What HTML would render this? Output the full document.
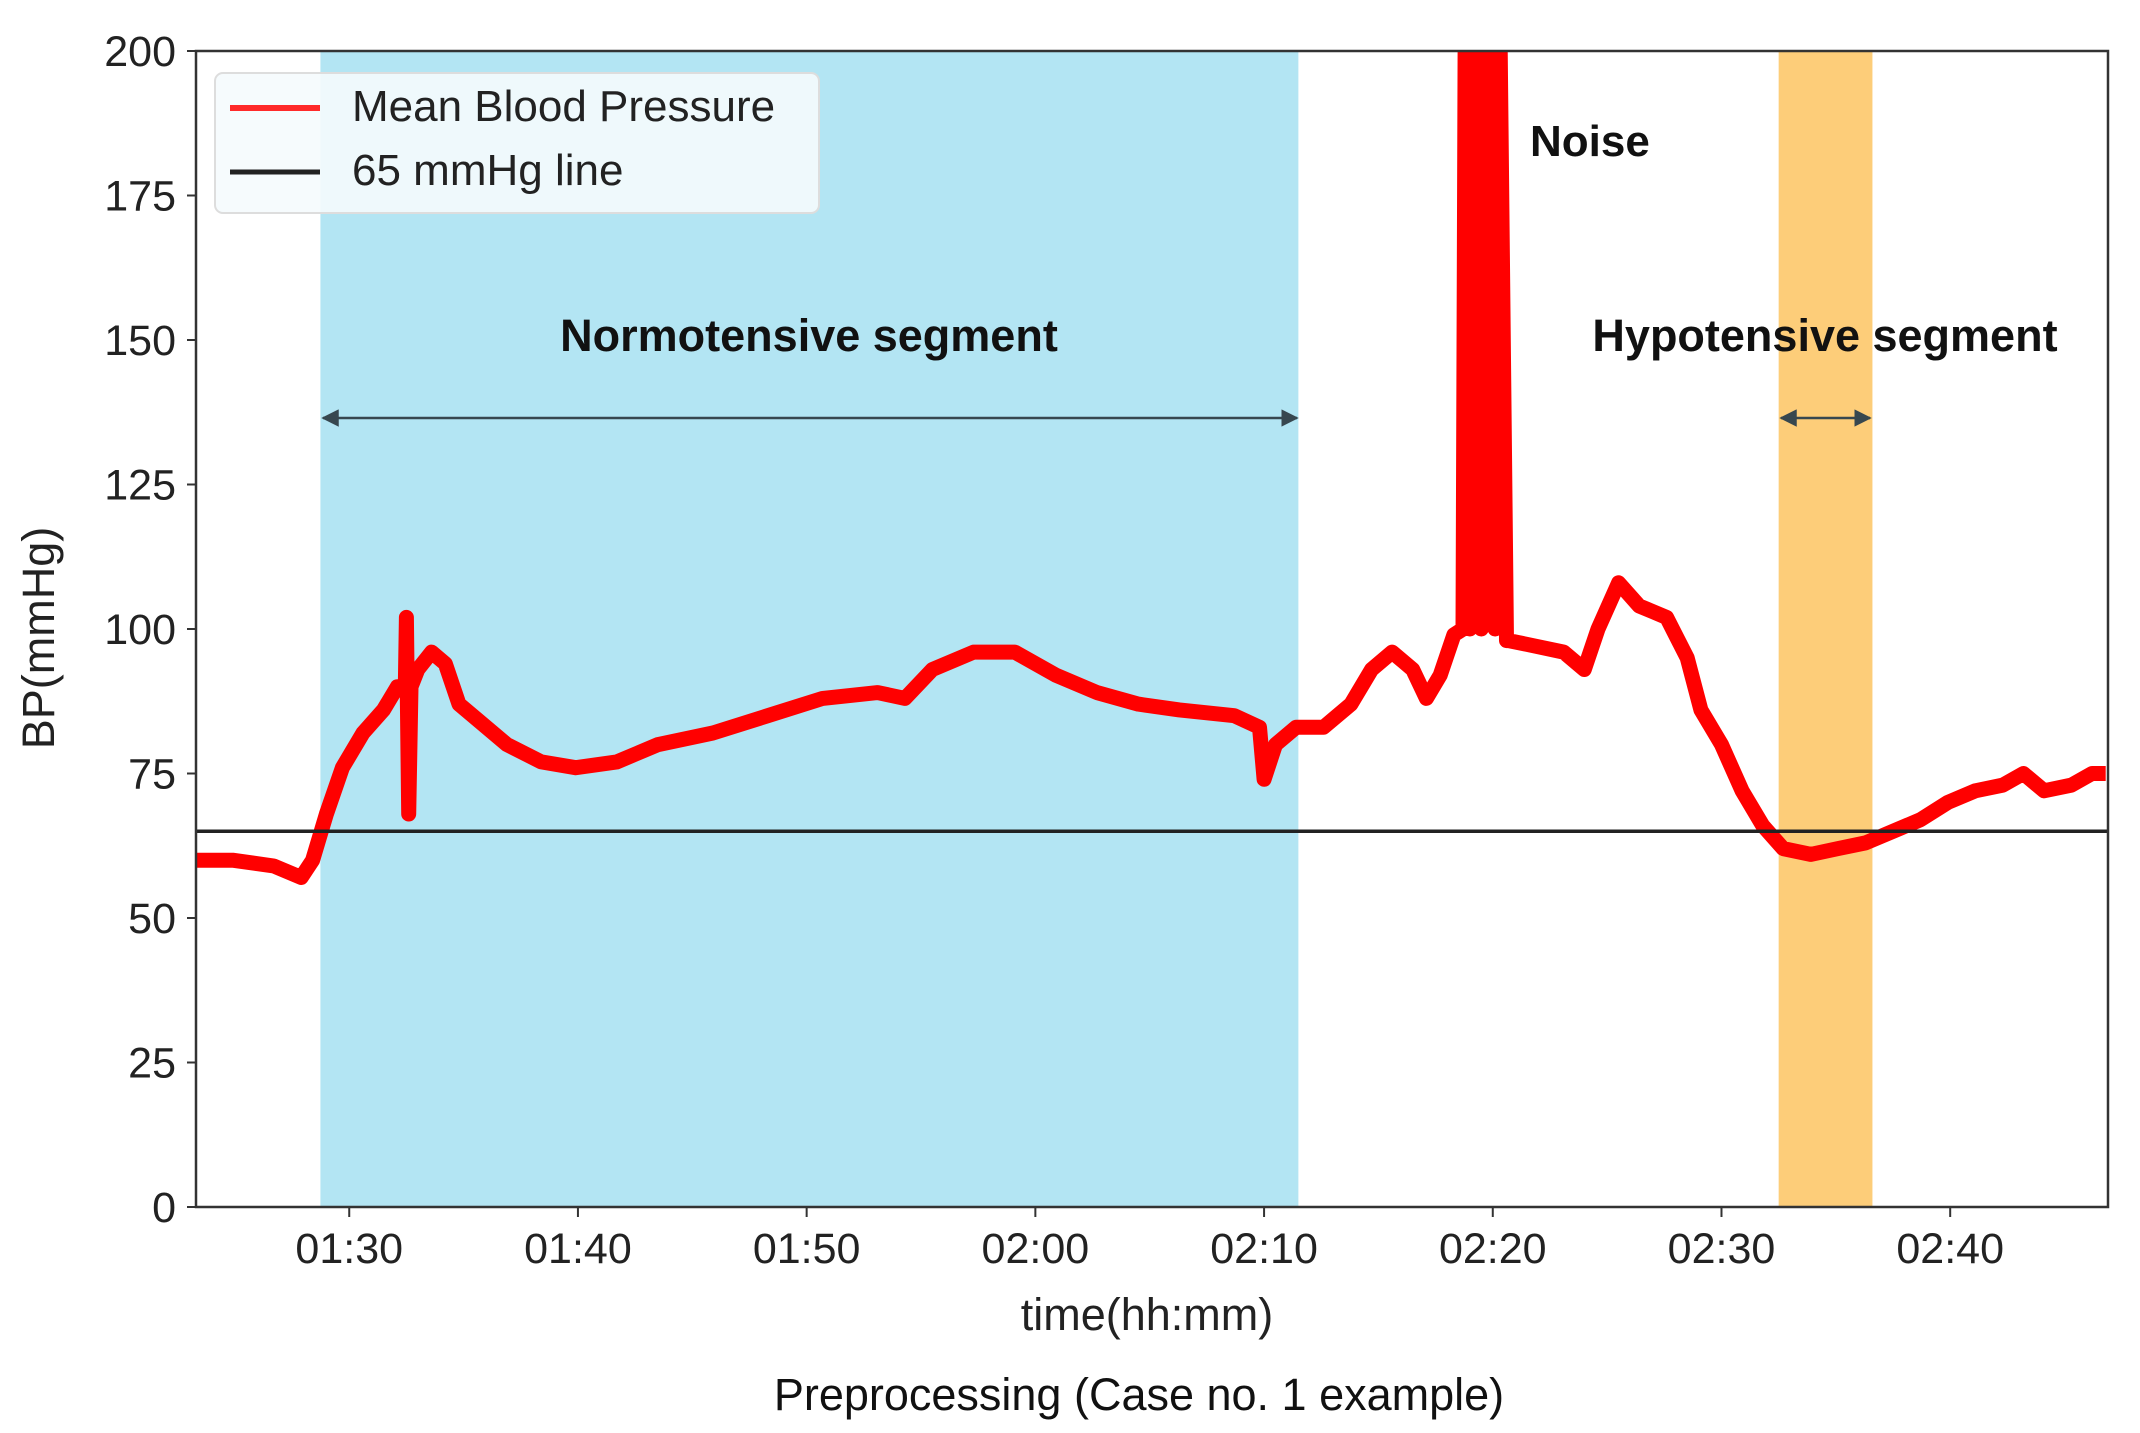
<!DOCTYPE html>
<html><head><meta charset="utf-8"><style>
html,body{margin:0;padding:0;background:#fff;}
svg{display:block;font-family:"Liberation Sans",sans-serif;}
</style></head><body>
<svg id="chart" width="2140" height="1433" viewBox="0 0 2140 1433">
<defs><clipPath id="plotclip"><rect x="196" y="51" width="1912" height="1156"/></clipPath>
<marker id="ah" viewBox="0 0 10 10" refX="9" refY="5" markerWidth="7" markerHeight="7" orient="auto-start-reverse"><path d="M0,0 L10,5 L0,10 z" fill="#37474f"/></marker></defs>
<g id="spans"></g>
<g id="series" clip-path="url(#plotclip)"></g>
<g id="axes"></g>
<g id="annot"></g>
</svg>
<script>
const times=[83.3,83.7,84.9,86.7,87.9,88.4,89.0,89.7,90.6,91.5,92.1,92.45,92.5,92.6,92.7,93.0,93.6,94.2,94.8,95.7,96.9,98.4,99.9,101.7,103.5,105.9,108.3,110.7,113.1,114.3,115.5,117.3,119.1,120.9,122.7,124.5,126.3,128.7,129.8,130.0,130.5,131.4,132.6,133.8,134.7,135.6,136.5,137.1,137.7,138.3,138.7,138.8,139.0,139.2,139.5,139.7,140.1,140.3,140.6,140.7,141.9,143.1,144.0,144.6,145.5,146.4,147.6,148.5,149.1,150.0,150.9,151.8,152.7,153.9,155.1,156.3,157.5,158.7,159.9,161.1,162.3,163.2,164.1,165.3,166.2,166.8];
const bpValues=[60,60,60,59,57,60,68,76,82,86,90,90,102,68,90,93,96,94,87,84,80,77,76,77,80,82,85,88,89,88,93,96,96,92,89,87,86,85,83,74,80,83,83,87,93,96,93,88,92,99,100,210,100,210,100,210,100,210,98,98,97,96,93,100,108,104,102,95,86,80,72,66,62,61,62,63,65,67,70,72,73,75,72,73,75,75];
const yTicks=[0,25,50,75,100,125,150,175,200];
const xTickMinutes=[90,100,110,120,130,140,150,160];
const xTickLabels=["01:30","01:40","01:50","02:00","02:10","02:20","02:30","02:40"];
const normoSpan=[88.74,131.5];
const hypoSpan=[152.5,156.6];
const threshold=65;
const xMin=83.3,xMax=166.9,yMin=0,yMax=200;
const L=196,R=2108,T=51,B=1207;
const NS="http://www.w3.org/2000/svg";
const X=m=>L+(m-xMin)/(xMax-xMin)*(R-L);
const Y=v=>B-(v-yMin)/(yMax-yMin)*(B-T);
function mk(tag,attrs,parent,text){const e=document.createElementNS(NS,tag);for(const k in attrs)e.setAttribute(k,attrs[k]);if(text!==undefined)e.textContent=text;parent.appendChild(e);return e;}
const spans=document.getElementById('spans'),series=document.getElementById('series'),axes=document.getElementById('axes'),annot=document.getElementById('annot');
let r=mk('rect',{x:X(normoSpan[0]),y:T,width:X(normoSpan[1])-X(normoSpan[0]),height:B-T,fill:'#b3e5f3'},spans);


r=mk('rect',{x:X(hypoSpan[0]),y:T,width:X(hypoSpan[1])-X(hypoSpan[0]),height:B-T,fill:'#fdcd79'},spans);


let d=times.map((t,i)=>(i?'L':'M')+X(t).toFixed(1)+','+Y(bpValues[i]).toFixed(1)).join(' ');
let p=mk('path',{d:d,fill:'none',stroke:'#ff0000','stroke-width':15,'stroke-linejoin':'round'},series);


let h=mk('line',{x1:L,x2:R,y1:Y(threshold),y2:Y(threshold),stroke:'#222','stroke-width':3.5},series);


let f=mk('rect',{x:L,y:T,width:R-L,height:B-T,fill:'none',stroke:'#333','stroke-width':2.5},axes);


yTicks.forEach(v=>{mk('line',{x1:L-9,x2:L,y1:Y(v),y2:Y(v),stroke:'#333','stroke-width':2},axes);
 const t=mk('text',{x:L-20,y:Y(v)+15,'text-anchor':'end','font-size':43,fill:'#222'},axes,String(v));
 
 });
xTickMinutes.forEach((m,i)=>{mk('line',{x1:X(m),x2:X(m),y1:B,y2:B+10,stroke:'#333','stroke-width':2},axes);
 const t=mk('text',{x:X(m),y:B+56,'text-anchor':'middle','font-size':43,fill:'#222'},axes,xTickLabels[i]);
 
 });
</script>
<script>
(function(){
const frag=`
<g>
<rect x="215" y="73" width="604" height="140" rx="8" fill="#f5fbfd" fill-opacity="0.9" stroke="#ddd" stroke-width="2"/>
<line x1="230" y1="108" x2="320" y2="108" stroke="#ff2a2a" stroke-width="6"/>
<text x="352" y="121" font-size="44" fill="#222">Mean Blood Pressure</text>
<line x1="230" y1="172" x2="320" y2="172" stroke="#222" stroke-width="5"/>
<text x="352" y="185" font-size="44" fill="#222">65 mmHg line</text>
</g>
<text x="809" y="351" text-anchor="middle" font-size="45" font-weight="bold" fill="#111">Normotensive segment</text>
<text x="1825" y="351" text-anchor="middle" font-size="45" font-weight="bold" fill="#111">Hypotensive segment</text>
<text x="1530" y="156" font-size="44" font-weight="bold" fill="#111">Noise</text>
<line x1="323" y1="418" x2="1297" y2="418" stroke="#37474f" stroke-width="2.5" marker-start="url(#ah)" marker-end="url(#ah)"/>
<line x1="1781" y1="418" x2="1870" y2="418" stroke="#37474f" stroke-width="2.5" marker-start="url(#ah)" marker-end="url(#ah)"/>
<text transform="translate(54,638) rotate(-90)" text-anchor="middle" font-size="45" fill="#222">BP(mmHg)</text>
<text x="1147" y="1330" text-anchor="middle" font-size="45" fill="#222">time(hh:mm)</text>
<text x="1139" y="1410" text-anchor="middle" font-size="45" fill="#111">Preprocessing (Case no. 1 example)</text>`;
document.getElementById('annot').innerHTML=frag;
})();
</script>
</body></html>
